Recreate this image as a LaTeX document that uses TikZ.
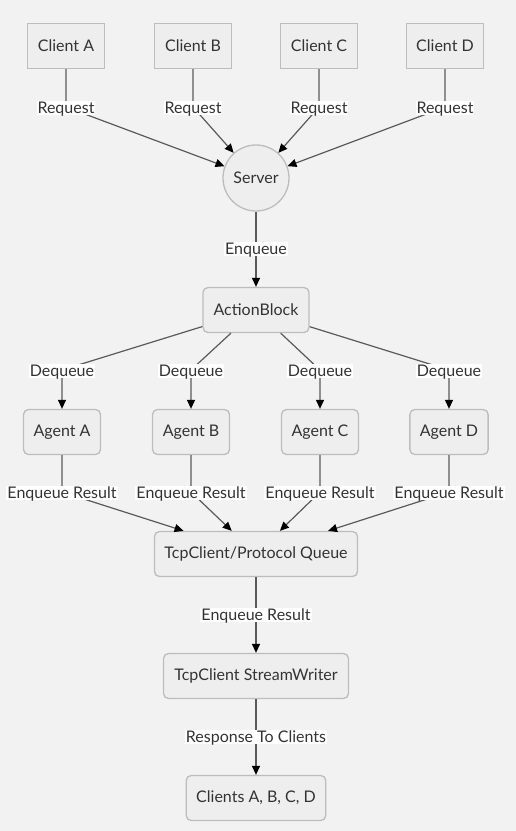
\documentclass[tikz,border=0pt]{standalone}
\usepackage{fontspec}
\setmainfont{Lato}
\usetikzlibrary{arrows.meta}
\definecolor{bgGray}{HTML}{F2F2F2}
\definecolor{boxFill}{HTML}{EEEEEE}
\definecolor{boxLine}{HTML}{BDBDBD}
\definecolor{edgeLine}{HTML}{5A5A5A}
\definecolor{txt}{HTML}{333333}
\tikzset{
  box/.style={draw=boxLine, fill=boxFill, line width=1.3pt, minimum height=45pt,
    inner xsep=10pt, text=txt, font=\fontsize{16}{19}\selectfont},
  rbox/.style={box, rounded corners=5pt},
  lbl/.style={fill=white, inner sep=1pt, text=txt, text depth=0pt, yshift=-1pt,
    font=\fontsize{16}{19}\selectfont},
  link/.style={draw=edgeLine, line width=1.2pt},
  arr/.style={link, -{Triangle[length=9pt,width=8pt,color=black]}}
}
\begin{document}
\begin{tikzpicture}[x=1pt,y=-1pt]
    \fill[bgGray] (0,0) rectangle (516,831);
    \useasboundingbox (0,0) rectangle (516,831);
    % clients
    \node[box, minimum width=77pt] (C1) at (66,46) {Client A};
    \node[box, minimum width=77pt] (C2) at (193,46) {Client B};
    \node[box, minimum width=77pt] (C3) at (319,46) {Client C};
    \node[box, minimum width=77pt] (C4) at (445,46) {Client D};
    \node[circle, draw=boxLine, fill=boxFill, line width=1.3pt, minimum size=66pt,
      inner sep=0pt, text=txt, font=\fontsize{16}{19}\selectfont] (S) at (256,178) {Server};
    \node[rbox, minimum width=106pt] (AB) at (256,310) {ActionBlock};
    \node[rbox, minimum width=77pt] (G1) at (62,432) {Agent A};
    \node[rbox, minimum width=77pt] (G2) at (191,432) {Agent B};
    \node[rbox, minimum width=77pt] (G3) at (320,432) {Agent C};
    \node[rbox, minimum width=77pt] (G4) at (449,432) {Agent D};
    \node[rbox, minimum width=203pt] (Q) at (256,554) {TcpClient/Protocol Queue};
    \node[rbox, minimum width=185pt] (W) at (256,676) {TcpClient StreamWriter};
    \node[rbox, minimum width=139pt] (R) at (256,798) {Clients A, B, C, D};
    % bend points of the edges
    \coordinate (r1) at (66,107);
    \coordinate (r2) at (193,107);
    \coordinate (r3) at (319,107);
    \coordinate (r4) at (445,107);
    \coordinate (e0) at (256,248);
    \coordinate (d1) at (62,370);
    \coordinate (d2) at (191,370);
    \coordinate (d3) at (320,370);
    \coordinate (d4) at (449,370);
    \coordinate (q1) at (62,492);
    \coordinate (q2) at (191,492);
    \coordinate (q3) at (320,492);
    \coordinate (q4) at (449,492);
    \coordinate (e5) at (256,614);
    \coordinate (e6) at (256,736);
    % edges
    \draw[arr] (C1) -- (r1) -- (S);
    \draw[arr] (C2) -- (r2) -- (S);
    \draw[arr] (C3) -- (r3) -- (S);
    \draw[arr] (C4) -- (r4) -- (S);
    \draw[arr] (S) -- (e0) -- (AB);
    \draw[arr] (AB) -- (d1) -- (G1);
    \draw[arr] (AB) -- (d2) -- (G2);
    \draw[arr] (AB) -- (d3) -- (G3);
    \draw[arr] (AB) -- (d4) -- (G4);
    \draw[arr] (G1) -- (q1) -- (Q);
    \draw[arr] (G2) -- (q2) -- (Q);
    \draw[arr] (G3) -- (q3) -- (Q);
    \draw[arr] (G4) -- (q4) -- (Q);
    \draw[arr] (Q) -- (e5) -- (W);
    \draw[arr] (W) -- (e6) -- (R);
    % edge labels
    \node[lbl] (lr1) at (r1) {Request};
    \node[lbl] (lr2) at (r2) {Request};
    \node[lbl] (lr3) at (r3) {Request};
    \node[lbl] (lr4) at (r4) {Request};
    \node[lbl] (le0) at (e0) {Enqueue};
    \node[lbl] (ld1) at (d1) {Dequeue};
    \node[lbl] (ld2) at (d2) {Dequeue};
    \node[lbl] (ld3) at (d3) {Dequeue};
    \node[lbl] (ld4) at (d4) {Dequeue};
    \node[lbl] (lq1) at (q1) {Enqueue Result};
    \node[lbl] (lq2) at (q2) {Enqueue Result};
    \node[lbl] (lq3) at (q3) {Enqueue Result};
    \node[lbl] (lq4) at (q4) {Enqueue Result};
    \node[lbl] (le5) at (e5) {Enqueue Result};
    \node[lbl] (le6) at (e6) {Response To Clients};
  \end{tikzpicture}
\end{document}
